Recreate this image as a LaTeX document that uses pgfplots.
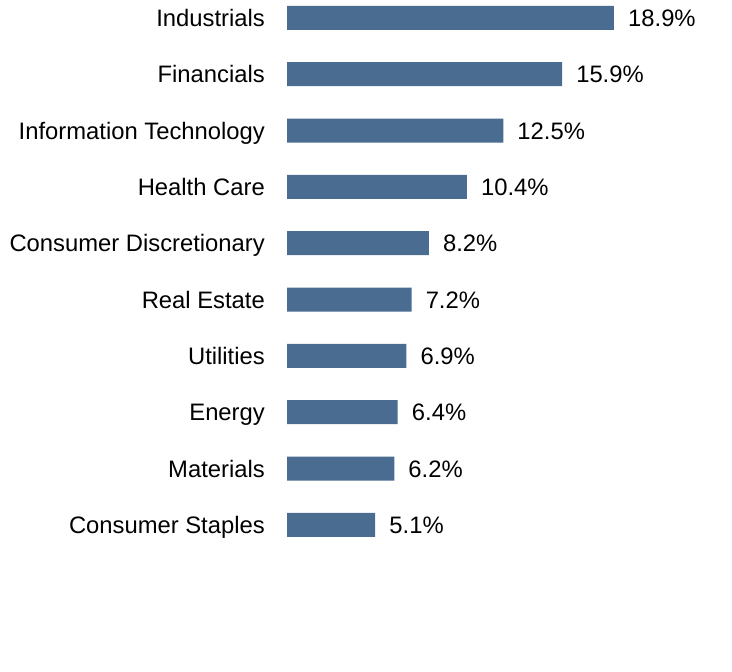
\documentclass[border=0pt]{standalone}
\usepackage{pgfplots}
\pgfplotsset{compat=1.18}
\usepackage{fontspec}
\setmainfont{Liberation Sans}
\definecolor{barc}{HTML}{4A6C91}
\begin{document}
\begin{tikzpicture}[x=1pt,y=1pt]
\path[use as bounding box] (0,0) rectangle (732,672);
\begin{axis}[
  at={(287pt,119pt)}, anchor=south west,
  scale only axis, width=432.5pt, height=563.3pt,
  xmin=0, xmax=25, ymin=-0.5, ymax=9.5, y dir=reverse,
  xbar, bar width=24pt, bar shift=0pt,
  axis lines=none,
  clip=false,
  /pgf/number format/assume math mode=true,
  nodes near coords={\pgfmathprintnumber[fixed,fixed zerofill,precision=1,assume math mode=true]{\pgfplotspointmeta}\%},
  nodes near coords style={anchor=base west, inner sep=0pt, xshift=14pt, yshift=-8.5pt, font=\fontsize{23.8}{26}\selectfont, text=black},
  point meta=explicit,
]
\addplot[fill=barc, draw=none] coordinates {
(18.9,0) [18.9]
(15.9,1) [15.9]
(12.5,2) [12.5]
(10.4,3) [10.4]
(8.2,4) [8.2]
(7.2,5) [7.2]
(6.9,6) [6.9]
(6.4,7) [6.4]
(6.2,8) [6.2]
(5.1,9) [5.1]
};
\end{axis}
\begin{axis}[
  at={(287pt,119pt)}, anchor=south west,
  scale only axis, width=432.5pt, height=563.3pt,
  xmin=0, xmax=25, ymin=-0.5, ymax=9.5, y dir=reverse,
  hide x axis, axis y line*=left, y axis line style={draw=none},
  ytick={0,...,9}, major tick length=0pt,
  yticklabels={Industrials,Financials,Information Technology,Health Care,Consumer Discretionary,Real Estate,Utilities,Energy,Materials,Consumer Staples},
  yticklabel style={font=\fontsize{23.8}{26}\selectfont, inner sep=0pt, xshift=-22pt, yshift=-8.5pt, anchor=base east},
]
\end{axis}
\end{tikzpicture}
\end{document}
